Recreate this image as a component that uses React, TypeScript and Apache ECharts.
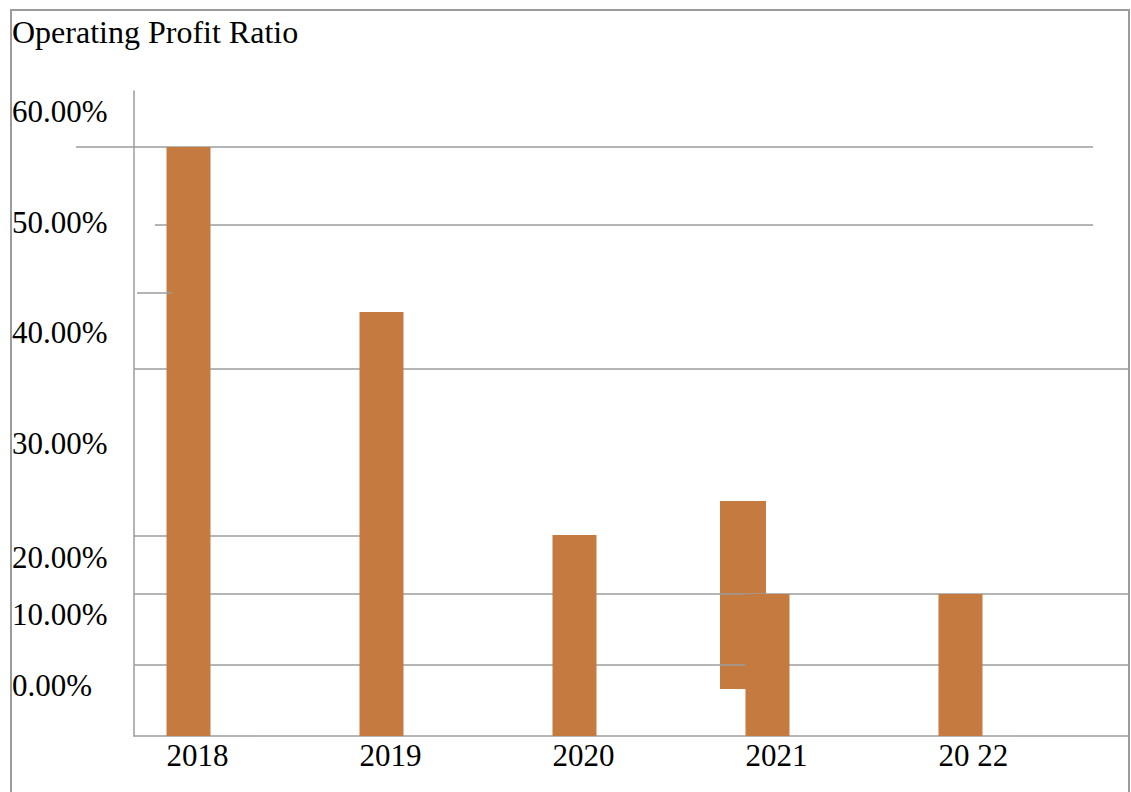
import React, { useEffect, useRef } from "react";
import * as echarts from "echarts";

// ---- data ----
const categories = ["2018", "2019", "2020", "2021", "2022"];
const xTickLabels = ["2018", "2019", "2020", "2021", "20 22"];
const ratioValues = [58.9, 42.4, 20.1, 14.2, 14.2];
// the detached, offset block drawn beside the 2021 bar: [x, low, high]
const floatingX = [2.873];
const floatingLow = [4.7];
const floatingHigh = [23.5];
const yTickLabels = ["60.00%", "50.00%", "40.00%", "30.00%", "20.00%", "10.00%", "0.00%"];
const yTickAt = [62.43, 51.34, 40.4, 29.25, 17.9, 12.15, 5.1];
// horizontal rules: [value, fromX, toX]
const gridRules = [
  [58.9, -0.583, 4.687],
  [51.1, -0.174, 4.687],
  [36.7, -0.2824, 4.8731],
  [20.0, -0.2824, 0.8886],
  [14.2, -0.2824, 4.8731],
  [7.1, -0.2824, 4.8731],
];
const overlayRules = [[44.3, -0.267, -0.0855]];

// ---- styles ----
const X_MIN = -0.2824;
const X_MAX = 4.8731;
const Y_MAX = 64.5;
const GRID_LEFT = 134;
const GRID_RIGHT_EDGE = 1129;
const UNIT_PX = (GRID_RIGHT_EDGE - GRID_LEFT) / (X_MAX - X_MIN);
const BAR_W = 44;
const FLOAT_W = 46;
const BAR_COLOR = "#c57a3f";
const RULE_COLOR = "#9a9c9f";
const FONT = "'Liberation Serif', 'Times New Roman', serif";
const xLabelAt = categories.map((_, i) => i - BAR_W / 2 / UNIT_PX);

const ruleRenderer = (params: any, api: any) => {
  const y = api.value(0);
  const p1 = api.coord([api.value(1), y]);
  const p2 = api.coord([api.value(2), y]);
  return {
    type: "line",
    shape: { x1: p1[0], y1: p1[1], x2: p2[0], y2: p2[1] },
    style: { stroke: RULE_COLOR, lineWidth: 1.5 },
  };
};

const floatRenderer = (params: any, api: any) => {
  const x = api.value(0);
  const lo = api.coord([x, api.value(1)]);
  const hi = api.coord([x, api.value(2)]);
  return {
    type: "rect",
    shape: { x: lo[0] - FLOAT_W / 2, y: hi[1], width: FLOAT_W, height: lo[1] - hi[1] },
    style: { fill: BAR_COLOR },
  };
};

const nearest = (arr: number[], v: number) => {
  let best = 0;
  arr.forEach((p, i) => {
    if (Math.abs(p - v) < Math.abs(arr[best] - v)) best = i;
  });
  return best;
};

export default function App() {
  const ref = useRef<HTMLDivElement>(null);
  useEffect(() => {
    if (!ref.current) return;
    const chart = echarts.init(ref.current, null, { renderer: "svg" });
    chart.setOption({
      animation: false,
      backgroundColor: "#ffffff",
      title: {
        text: "Operating Profit Ratio",
        left: 12,
        top: 16,
        padding: 0,
        textStyle: { fontFamily: FONT, fontSize: 32, fontWeight: "normal", color: "#000" },
      },
      graphic: [
        {
          type: "rect",
          shape: { x: 11, y: 10, width: 1118, height: 800 },
          style: { fill: "none", stroke: RULE_COLOR, lineWidth: 2 },
          silent: true,
        },
      ],
      grid: {
        left: GRID_LEFT,
        right: 1131 - GRID_RIGHT_EDGE,
        top: 91,
        bottom: 56,
        containLabel: false,
        outerBoundsMode: "none",
      },
      xAxis: {
        type: "value",
        min: X_MIN,
        max: X_MAX,
        axisLine: { show: true, onZero: false, lineStyle: { color: RULE_COLOR, width: 1.5 } },
        axisTick: { show: false },
        splitLine: { show: false },
        axisLabel: {
          customValues: xLabelAt,
          formatter: (v: number) => xTickLabels[nearest(xLabelAt, v)],
          align: "left",
          verticalAlign: "middle",
          margin: 19,
          fontFamily: FONT,
          fontSize: 31,
          color: "#000",
        },
      },
      yAxis: {
        type: "value",
        min: 0,
        max: Y_MAX,
        axisLine: { show: true, onZero: false, lineStyle: { color: RULE_COLOR, width: 1.5 } },
        axisTick: { show: false },
        splitLine: { show: false },
        axisLabel: {
          customValues: yTickAt,
          formatter: (v: number) => yTickLabels[nearest(yTickAt, v)],
          align: "left",
          verticalAlign: "middle",
          margin: GRID_LEFT - 12,
          fontFamily: FONT,
          fontSize: 31,
          color: "#000",
        },
      },
      series: [
        {
          name: "float",
          type: "custom",
          z: 1,
          encode: { x: 0, y: [1, 2] },
          renderItem: floatRenderer,
          data: floatingX.map((x, i) => [x, floatingLow[i], floatingHigh[i]]),
        },
        {
          name: "rules",
          type: "custom",
          z: 2,
          silent: true,
          encode: { x: [1, 2], y: 0 },
          renderItem: ruleRenderer,
          data: gridRules,
        },
        {
          name: "Operating Profit Ratio",
          type: "bar",
          barWidth: BAR_W,
          z: 3,
          itemStyle: { color: BAR_COLOR },
          data: ratioValues.map((v, i) => [i, v]),
        },
        {
          name: "overlayRules",
          type: "custom",
          z: 4,
          silent: true,
          encode: { x: [1, 2], y: 0 },
          renderItem: ruleRenderer,
          data: overlayRules,
        },
      ],
    });
    return () => chart.dispose();
  }, []);
  return (
    <div
      ref={ref}
      style={{ position: "absolute", left: 0, top: 0, width: 1131, height: 792, background: "#fff" }}
    />
  );
}
